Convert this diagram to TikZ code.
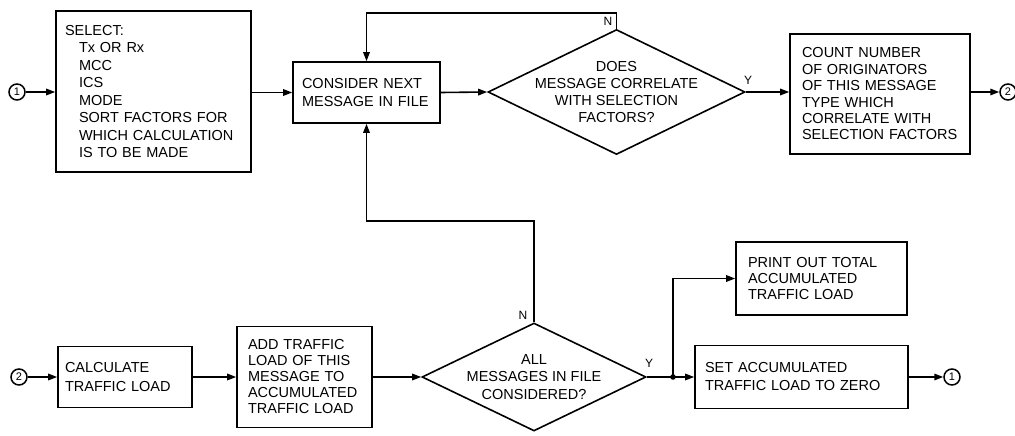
\documentclass[tikz,border=0pt]{standalone}
\usepackage{fontspec}
\setmainfont{Liberation Sans}
\usetikzlibrary{shapes.geometric,arrows.meta}

\begin{document}
\begin{tikzpicture}[x=1pt,y=-1pt,
  every node/.style={font=\fontsize{14.5}{17}\selectfont},
  line/.style={line width=1.6pt},
  arr/.style={line, -{Triangle[length=9pt,width=6.5pt]}},
  box/.style={draw, line width=1.6pt, rectangle, align=left, inner ysep=0pt},
  dia/.style={draw, line width=1.6pt, diamond, inner sep=0pt},
  conn/.style={draw, line width=1.5pt, circle, inner sep=0pt, minimum size=16pt,
    font=\fontsize{11}{12}\selectfont},
  flag/.style={font=\fontsize{12}{12}\selectfont, inner sep=1pt}]
\useasboundingbox (0,0) rectangle (1015,436);

% ---- upper row ----
\node[conn] (c1a) at (17,92) {1};
\node[box, minimum width=195pt, minimum height=161pt, inner xsep=9pt, text width=177pt,
  font=\fontsize{14.5}{17.5}\selectfont] (sel) at (153.5,91.5)
  {SELECT:\\
   \hspace*{14pt}Tx OR Rx\\
   \hspace*{14pt}MCC\\
   \hspace*{14pt}ICS\\
   \hspace*{14pt}MODE\\
   \hspace*{14pt}SORT FACTORS FOR\\
   \hspace*{14pt}WHICH CALCULATION\\
   \hspace*{14pt}IS TO BE MADE};
\node[box, minimum width=147pt, minimum height=61pt, inner xsep=9pt, text width=129pt,
  font=\fontsize{14.5}{18}\selectfont] (cons) at (366.5,92.5)
  {CONSIDER NEXT\\MESSAGE IN FILE};
\node[dia, minimum width=257pt, minimum height=125pt] (d1) at (616.5,92) {};
\node[align=center, font=\fontsize{14.5}{17.3}\selectfont] (d1t) at (d1) {DOES\\MESSAGE CORRELATE\\WITH SELECTION\\FACTORS?};
\node[box, minimum width=180pt, minimum height=120pt, inner xsep=12pt, text width=156pt,
  font=\fontsize{14.5}{16.4}\selectfont] (cnt) at (880,94)
  {COUNT NUMBER\\OF ORIGINATORS\\OF THIS MESSAGE\\TYPE WHICH\\CORRELATE WITH\\SELECTION FACTORS};
\node[conn] (c2a) at (1008,92) {2};

\node[flag] (n1) at (608,21) {N};
\node[flag] (y1) at (748,80) {Y};

% ---- lower row ----
\node[conn] (c2b) at (19,377) {2};
\node[box, minimum width=134pt, minimum height=61pt, inner xsep=7pt, text width=120pt,
  font=\fontsize{14.5}{19}\selectfont] (calc) at (125,377)
  {CALCULATE\\TRAFFIC LOAD};
\node[box, minimum width=135pt, minimum height=101pt, inner xsep=11pt, text width=113pt,
  font=\fontsize{14.5}{16}\selectfont] (add) at (304.5,377)
  {ADD TRAFFIC\\LOAD OF THIS\\MESSAGE TO\\ACCUMULATED\\TRAFFIC LOAD};
\node[dia, minimum width=224pt, minimum height=108pt] (d2) at (534,377) {};
\node[align=center, font=\fontsize{14.5}{17.5}\selectfont] (d2t) at (d2) {ALL\\MESSAGES IN FILE\\CONSIDERED?};
\node[box, minimum width=171pt, minimum height=73pt, inner xsep=12pt, text width=147pt,
  font=\fontsize{14.5}{16}\selectfont] (print) at (821.5,278.5)
  {PRINT OUT TOTAL\\ACCUMULATED\\TRAFFIC LOAD};
\node[box, minimum width=213pt, minimum height=63pt, inner xsep=10pt, text width=193pt,
  font=\fontsize{14.5}{18}\selectfont] (set) at (801.5,377)
  {SET ACCUMULATED\\TRAFFIC LOAD TO ZERO};
\node[conn] (c1b) at (952,377) {1};

\node[flag] (n2) at (523,315) {N};
\node[flag] (y2) at (649,363) {Y};

% ---- connectors ----
\coordinate (topN) at (616.5,13);
\coordinate (midN) at (534,221);
\coordinate (jn) at (673,377);

\draw[arr] (c1a) -- (c1a -| sel.west);
\draw[arr] (sel.east |- cons) -- (cons.west);
\draw[arr] (cons.east) -- (d1.west);
\draw[arr] (d1.east) -- (d1.east -| cnt.west);
\draw[arr] (cnt.east |- c2a) -- (c2a);
\draw[arr] (d1.north) -- (topN) -| (cons.north);
\draw[arr] (d2.north) -- (midN) -| (cons.south);

\draw[arr] (c2b) -- (c2b -| calc.west);
\draw[arr] (calc.east) -- (calc.east -| add.west);
\draw[arr] (add.east) -- (d2.west);
\draw[arr] (d2.east) -- (set.west);
\fill (jn) circle (2.8pt);
\draw[arr] (jn) |- (print.west);
\draw[arr] (set.east) -- (c1b);
\end{tikzpicture}
\end{document}
